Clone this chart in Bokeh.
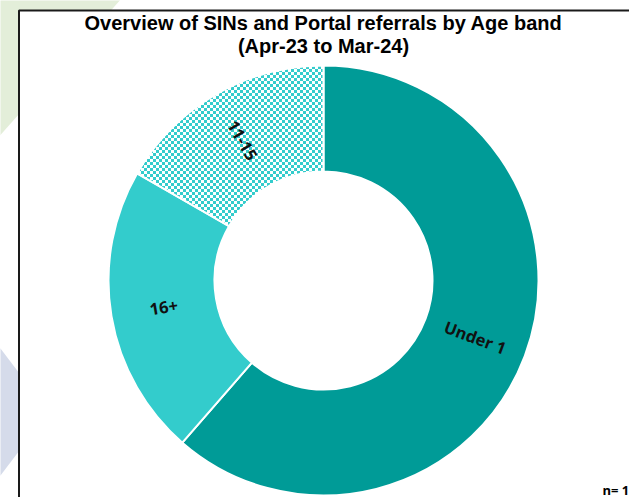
import base64, struct, zlib, math
from bokeh.plotting import figure
from bokeh.models import Range1d, ColumnDataSource, ImageURLTexture
from bokeh.core.properties import value
from bokeh.embed import file_html
from bokeh.resources import INLINE

# ---- data ----
title_lines = ["Overview of SINs and Portal referrals by Age band", "(Apr-23 to Mar-24)"]
categories = ["Under 1", "16+", "11-15"]
shares = [61.4, 21.9, 16.7]
colors = ["#009b97", "#33cccc", "#33cccc"]
patterns = [None, None, "chk"]
n_label = "n= 1"

W, H = 629, 497


def X(px):
    return px


def Y(py):
    return H - py


def png_checker(c1, c2, sq=3):
    size = sq * 2
    rows = b""
    for yy in range(size):
        row = b"\x00"
        for xx in range(size):
            c = c1 if ((xx // sq) + (yy // sq)) % 2 == 0 else c2
            row += bytes(c)
        rows += row

    def chunk(t, d):
        return struct.pack(">I", len(d)) + t + d + struct.pack(">I", zlib.crc32(t + d) & 0xffffffff)

    ihdr = struct.pack(">IIBBBBB", size, size, 8, 2, 0, 0, 0)
    png = b"\x89PNG\r\n\x1a\n" + chunk(b"IHDR", ihdr) + chunk(b"IDAT", zlib.compress(rows)) + chunk(b"IEND", b"")
    return "data:image/png;base64," + base64.b64encode(png).decode()


p = figure(width=W, height=H, x_range=Range1d(0, W), y_range=Range1d(0, H),
           output_backend="svg", toolbar_location=None, min_border=0,
           x_axis_type=None, y_axis_type=None)
p.grid.visible = False
p.outline_line_color = None
p.background_fill_color = "white"

# background decorations
p.patch([X(-20), X(137), X(-20)], [Y(-20), Y(-20), Y(157)], fill_color="#e3eed9", line_color=None)
p.patch([X(-20), X(0), X(22), X(22), X(0), X(-20)],
        [Y(348), Y(348), Y(377), Y(446), Y(475), Y(475)], fill_color="#d5dbea", line_color=None)

# chart box
p.quad(left=[X(18.5)], right=[W + 60], top=[Y(10)], bottom=[-60],
       fill_color="white", line_color="#1a1a1a", line_width=2)

# donut
cx, cy = X(323), Y(280)
r_in, r_out = 109, 215
total = sum(shares)
cum = [0]
for s in shares:
    cum.append(cum[-1] + s)
starts = [math.pi / 2 - 2 * math.pi * cum[i] / total for i in range(len(shares))]
ends = [math.pi / 2 - 2 * math.pi * cum[i + 1] / total for i in range(len(shares))]

tex = ImageURLTexture(url=png_checker((51, 204, 204), (255, 255, 255)), repetition="repeat")

for i, cat in enumerate(categories):
    if patterns[i]:
        kw = dict(fill_color="white", hatch_pattern=value(patterns[i]),
                  hatch_extra={patterns[i]: tex}, hatch_alpha=1.0)
    else:
        kw = dict(fill_color=colors[i])
    p.annular_wedge(x=[cx], y=[cy], inner_radius=r_in, outer_radius=r_out,
                    start_angle=[starts[i]], end_angle=[ends[i]], direction="clock",
                    line_color="white", line_width=2, **kw)

# labels
lx, ly, la = [], [], []
r_lab = (r_in + r_out) / 2
for i in range(len(categories)):
    th = (starts[i] + ends[i]) / 2
    lx.append(cx + r_lab * math.cos(th))
    ly.append(cy + r_lab * math.sin(th))
    la.append(th if math.cos(th) >= 0 else th + math.pi)
src = ColumnDataSource(dict(x=lx, y=ly, t=categories, a=la))
p.text(x="x", y="y", text="t", angle="a", source=src, text_align="center", text_baseline="middle",
       text_font=value("Open Sans"), text_font_style="bold", text_font_size="16.5px", text_color="#111111")

# title
p.text(x=[X(323), X(323)], y=[Y(22), Y(45)], text=title_lines, text_align="center", text_baseline="middle",
       text_font=value("Liberation Sans"), text_font_style="bold", text_font_size="20px", text_color="black")

# n label
p.text(x=[X(602)], y=[Y(489)], text=[n_label], text_align="left", text_baseline="middle",
       text_font=value("Open Sans"), text_font_style="bold", text_font_size="13px", text_color="black")

open("out.html", "w").write(file_html(p, INLINE))
